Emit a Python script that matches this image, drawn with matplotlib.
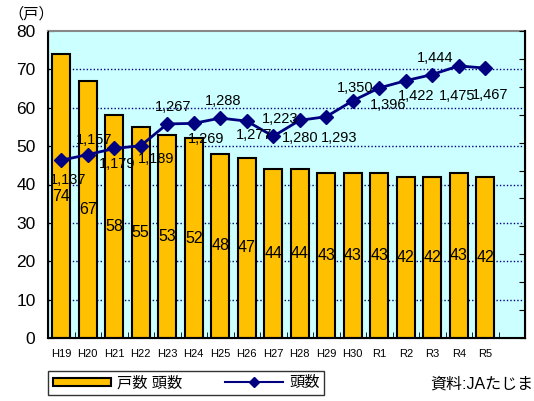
import numpy as np
import matplotlib.pyplot as plt
from matplotlib.patches import Patch
from matplotlib.lines import Line2D

plt.rcParams['font.family'] = ['Liberation Sans', 'Noto Sans CJK JP', 'DejaVu Sans']

#-----------------------
# Data
#-----------------------
years = ['H19', 'H20', 'H21', 'H22', 'H23', 'H24', 'H25', 'H26', 'H27',
         'H28', 'H29', 'H30', 'R1', 'R2', 'R3', 'R4', 'R5']
households = [74, 67, 58, 55, 53, 52, 48, 47, 44, 44, 43, 43, 43, 42, 42, 43, 42]
heads = [1137, 1157, 1179, 1189, 1267, 1269, 1288, 1277, 1223, 1280, 1293,
         1350, 1396, 1422, 1444, 1475, 1467]

# label offsets (pixels) for the line labels, like the Excel original
head_label_offsets = [(7, -20), (6, 15), (3, -16), (15, -13), (6, 17), (12, -16),
                      (3, 17), (7, -14), (7, 17), (0, -18), (13, -21), (2, 13),
                      (9, -17), (10, -15), (3, 17), (-2, -30), (5, -27)]

bar_color = '#FFC000'
line_color = '#000080'

#-----------------------
# Figure
#-----------------------
fig = plt.figure(figsize=(5.34, 4.01), dpi=100)
ax = fig.add_axes([48 / 534, 63 / 401, 477 / 534, 307 / 401])
ax.set_facecolor('#CCFFFF')

x = np.arange(len(years))

for y in range(10, 80, 10):
    ax.axhline(y, color=line_color, linestyle=(0, (1, 1.5)), linewidth=1.0, zorder=1)

bars = ax.bar(x, households, width=0.68, color=bar_color, edgecolor='black',
              linewidth=1.5, zorder=2)
for xi, v in zip(x, households):
    ax.text(xi, v / 2, str(v), ha='center', va='center', fontsize=11.5, zorder=5)

ax.set_xlim(-0.5, len(years) + 0.5)
ax.set_ylim(0, 80)
ax.set_yticks(range(0, 81, 10))
ax.set_xticks(x)
ax.set_xticklabels(years, fontsize=8)
ax.set_xticks(np.arange(-0.5, len(years) + 0.5, 1), minor=True)
ax.tick_params(axis='x', which='major', length=0, pad=8)
ax.tick_params(axis='x', which='minor', direction='in', length=4)
ax.tick_params(axis='y', direction='in', length=4, labelsize=12.5, pad=9)

ax.spines['top'].set_color('#888888')
ax.spines['top'].set_linewidth(1.5)
ax.spines['left'].set_linewidth(1.5)
ax.spines['bottom'].set_linewidth(1.5)

ax2 = ax.twinx()
ax2.set_ylim(500, 1600)
ax2.set_yticks(range(500, 1601, 100))
ax2.set_yticklabels([])
ax2.tick_params(axis='y', direction='in', length=4)
ax2.spines['right'].set_linewidth(1.5)
ax2.spines['top'].set_visible(False)

ax2.plot(x, heads, color=line_color, linewidth=2, marker='D', markersize=7,
         zorder=4)
for xi, v, (dx, dy) in zip(x, heads, head_label_offsets):
    ax2.annotate(f'{v:,}', (xi, v), xytext=(dx, dy), textcoords='offset pixels',
                 ha='center', va='center', fontsize=10.5, zorder=6)

fig.text(8 / 534, 1 - 14 / 401, '（戸）', fontsize=11, va='center', ha='left')

handles = [Patch(facecolor=bar_color, edgecolor='black', linewidth=1.5),
           Line2D([0], [0], color=line_color, linewidth=1.5, marker='D', markersize=5)]
leg = fig.legend(handles, ['戸数 頭数', '頭数'], ncol=2, loc='center',
                 bbox_to_anchor=(186 / 534, 1 - 383 / 401), fontsize=11,
                 frameon=True, fancybox=False, edgecolor='black',
                 handlelength=3.8, handleheight=0.45, columnspacing=2.8,
                 handletextpad=0.4, borderpad=0.3, borderaxespad=0)
leg.get_frame().set_linewidth(1.0)

fig.text(533 / 534, 1 - 384 / 401, '資料:JAたじま', fontsize=11.5, ha='right',
         va='center')

fig.savefig('out.png', dpi=100)
